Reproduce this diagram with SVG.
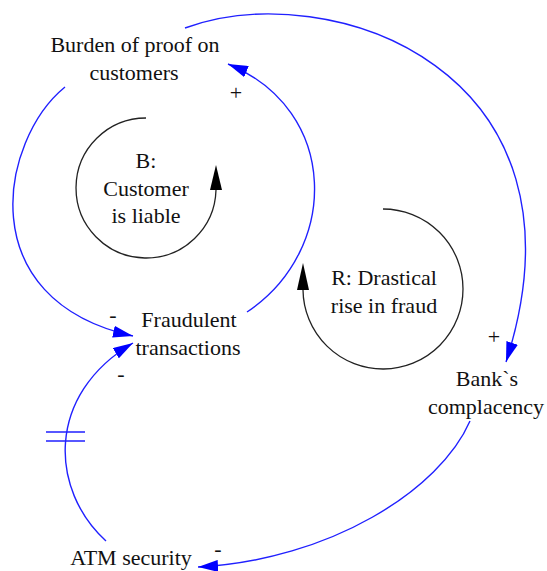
<svg xmlns="http://www.w3.org/2000/svg" width="547" height="571" viewBox="0 0 547 571">
  <style>
    .lbl { font-family: "Liberation Serif", "Times New Roman", serif; font-size: 22px; fill: #111; text-anchor: middle; }
    .link { fill: none; stroke: #2020ff; stroke-width: 1.4; }
    .loop { fill: none; stroke: #222; stroke-width: 1.3; }
    .loophead { fill: #000; }
  </style>
  <defs>
    <marker id="arrow" markerUnits="userSpaceOnUse" viewBox="0 0 20 12" refX="20" refY="6" markerWidth="20" markerHeight="12" orient="auto">
      <path d="M0,0 L20,6 L0,12 z" fill="#0000ff"/>
    </marker>
  </defs>

  <!-- causal links -->
  <g id="connectors">
    <!-- Burden of proof -> Bank's complacency (+) -->
    <path class="link" d="M185,28 C330,-25 600,70 506,362" marker-end="url(#arrow)"/>
    <!-- Fraudulent transactions -> Burden of proof (+) -->
    <path class="link" d="M247,312 C340,250 340,110 228,64" marker-end="url(#arrow)"/>
    <!-- Burden of proof -> Fraudulent transactions (-) -->
    <path class="link" d="M65,87 C0,140 -30,300 133,336" marker-end="url(#arrow)"/>
    <!-- ATM security -> Fraudulent transactions (-), delayed -->
    <path class="link" d="M106,541 C50,490 45,395 133,343" marker-end="url(#arrow)"/>
    <!-- delay mark -->
    <path class="link" d="M46,432 H85 M46,441 H85"/>
    <!-- Bank's complacency -> ATM security (-) -->
    <path class="link" d="M470,421 C440,490 330,560 198,567" marker-end="url(#arrow)"/>

    <!-- polarity signs -->
    <text class="lbl" x="236" y="100">+</text>
    <text class="lbl" x="113" y="322">-</text>
    <text class="lbl" x="121" y="381">-</text>
    <text class="lbl" x="494" y="344">+</text>
    <text class="lbl" x="218" y="556">-</text>
  </g>

  <!-- balancing loop B -->
  <g id="loop-b">
    <path class="loop" d="M146,118 A70,70 0 1 0 216,190"/>
    <polygon class="loophead" points="216,165 210,190 222,190"/>
    <text class="lbl" x="146" y="168">B:</text>
    <text class="lbl" x="146" y="196">Customer</text>
    <text class="lbl" x="146" y="223">is liable</text>
  </g>

  <!-- reinforcing loop R -->
  <g id="loop-r">
    <path class="loop" d="M383,209 A80,80 0 1 1 303,290"/>
    <polygon class="loophead" points="303,263 297,290 309,290"/>
    <text class="lbl" x="384" y="285">R: Drastical</text>
    <text class="lbl" x="384" y="313">rise in fraud</text>
  </g>

  <g id="burden">
    <text class="lbl" x="135" y="52">Burden of proof on</text>
    <text class="lbl" x="134" y="80">customers</text>
  </g>

  <g id="fraud">
    <text class="lbl" x="189" y="327">Fraudulent</text>
    <text class="lbl" x="188" y="355">transactions</text>
  </g>

  <g id="complacency">
    <text class="lbl" x="487" y="386">Bank`s</text>
    <text class="lbl" x="486" y="414">complacency</text>
  </g>

  <g id="atm">
    <text class="lbl" x="131" y="565">ATM security</text>
  </g>
</svg>
